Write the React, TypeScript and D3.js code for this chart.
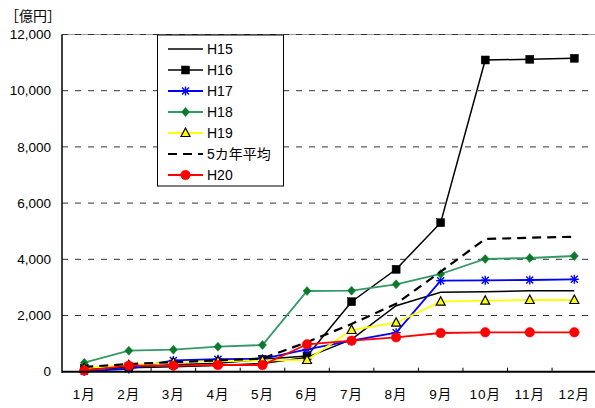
import React from "react";
import * as d3 from "d3";

const months = ["1月", "2月", "3月", "4月", "5月", "6月", "7月", "8月", "9月", "10月", "11月", "12月"];
const yTicks = [0, 2000, 4000, 6000, 8000, 10000, 12000];

const h15 = [100, 140, 180, 220, 290, 510, 1150, 2350, 2826, 2847, 2883, 2883];
const h16 = [120, 170, 250, 300, 440, 560, 2491, 3644, 5302, 11093, 11117, 11153];
const h17 = [20, 100, 400, 445, 455, 797, 1103, 1388, 3238, 3253, 3263, 3288];
const h18 = [320, 747, 783, 890, 950, 2872, 2883, 3110, 3477, 4011, 4046, 4117];
const h19 = [130, 230, 330, 370, 400, 416, 1484, 1744, 2491, 2527, 2552, 2552];
const avg5 = [170, 270, 340, 400, 470, 1050, 1700, 2420, 3560, 4722, 4769, 4804];
const h20 = [40, 214, 214, 238, 238, 975, 1103, 1224, 1377, 1402, 1402, 1402];

type Marker = "none" | "square" | "star" | "diamond" | "triangle" | "circle";
interface Series {
  name: string;
  values: number[];
  color: string;
  width: number;
  dash?: string;
  marker: Marker;
  mFill: string;
  mStroke: string;
}

const series: Series[] = [
  { name: "H15", values: h15, color: "#000000", width: 1.5, marker: "none", mFill: "none", mStroke: "none" },
  { name: "H16", values: h16, color: "#000000", width: 1.5, marker: "square", mFill: "#000000", mStroke: "#000000" },
  { name: "H17", values: h17, color: "#0000ff", width: 1.8, marker: "star", mFill: "none", mStroke: "#0000ff" },
  { name: "H18", values: h18, color: "#339966", width: 1.8, marker: "diamond", mFill: "#0a7a2a", mStroke: "#0a7a2a" },
  { name: "H19", values: h19, color: "#ffff00", width: 1.8, marker: "triangle", mFill: "#ffff00", mStroke: "#000000" },
  { name: "5カ年平均", values: avg5, color: "#000000", width: 2.2, dash: "9,6", marker: "none", mFill: "none", mStroke: "none" },
  { name: "H20", values: h20, color: "#ff0000", width: 1.8, marker: "circle", mFill: "#ff0000", mStroke: "#ff0000" },
];

const FONT = "'Liberation Sans', 'Noto Sans CJK JP', sans-serif";

function MarkerShape({ type, x, y, fill, stroke }: { type: Marker; x: number; y: number; fill: string; stroke: string }) {
  switch (type) {
    case "square":
      return <rect x={x - 4} y={y - 4} width={8} height={8} fill={fill} stroke={stroke} strokeWidth={0.5} />;
    case "star":
      return (
        <g stroke={stroke} strokeWidth={1.4}>
          <line x1={x - 4.5} y1={y} x2={x + 4.5} y2={y} />
          <line x1={x - 3.5} y1={y - 3.5} x2={x + 3.5} y2={y + 3.5} />
          <line x1={x - 3.5} y1={y + 3.5} x2={x + 3.5} y2={y - 3.5} />
          <line x1={x} y1={y - 4.5} x2={x} y2={y + 4.5} />
        </g>
      );
    case "diamond":
      return <path d={`M${x},${y - 4.5}L${x + 4},${y}L${x},${y + 4.5}L${x - 4},${y}Z`} fill={fill} stroke={stroke} strokeWidth={0.5} />;
    case "triangle":
      return <path d={`M${x},${y - 5}L${x + 4.5},${y + 3.5}L${x - 4.5},${y + 3.5}Z`} fill={fill} stroke={stroke} strokeWidth={1.2} />;
    case "circle":
      return <circle cx={x} cy={y} r={4.8} fill={fill} stroke={stroke} strokeWidth={0.5} />;
    default:
      return null;
  }
}

export default function App() {
  const W = 595;
  const H = 408;
  const left = 62;
  const bandW = 44.55;
  const right = left + bandW * months.length;
  const top = 34.5;
  const bottom = 371.7;

  const x = d3.scaleBand<string>().domain(months).range([left, right]).padding(0);
  const y = d3.scaleLinear().domain([0, 12000]).range([bottom, top]);
  const cx = (m: string) => (x(m) as number) + x.bandwidth() / 2;

  const line = d3
    .line<number>()
    .x((_, i) => cx(months[i]))
    .y((v) => y(v));

  const fmt = d3.format(",");

  const legendX = 157.5;
  const legendY = 35;
  const legendW = 126;
  const legendH = 151;

  return (
    <svg width={W} height={H} style={{ position: "absolute", left: 0, top: 0, background: "#fff" }}>
      <rect x={0} y={0} width={W} height={H} fill="#fff" />
      {/* gridlines */}
      {yTicks
        .filter((t) => t > 0)
        .map((t) => (
          <g key={t}>
            {t === 12000 && <line x1={left} x2={W} y1={y(t)} y2={y(t)} stroke="#9a9a9a" strokeWidth={1} />}
            <line x1={left} x2={W} y1={y(t)} y2={y(t)} stroke="#333" strokeWidth={1} strokeDasharray="6,7" />
          </g>
        ))}
      {/* y tick labels */}
      {yTicks.map((t) => (
        <text key={t} x={51} y={y(t)} dy="0.35em" textAnchor="end" fontSize={13.5} fontFamily={FONT} fill="#000">
          {fmt(t)}
        </text>
      ))}
      <text x={5} y={21} fontSize={14} fontFamily={FONT} fill="#000">
        ［億円］
      </text>
      {/* x tick marks */}
      {months.map((m, i) =>
        i === 0 ? null : (
          <line key={m} x1={x(m) as number} x2={x(m) as number} y1={bottom} y2={bottom - 4} stroke="#000" strokeWidth={1} />
        )
      )}
      {/* x labels */}
      {months.map((m) => (
        <text key={m} x={cx(m)} y={394} dy="0.35em" textAnchor="middle" fontSize={13.5} fontFamily={FONT} fill="#000" letterSpacing={1}>
          {m}
        </text>
      ))}
      {/* series */}
      {series.map((s) => (
        <g key={s.name}>
          <path d={line(s.values) || ""} fill="none" stroke={s.color} strokeWidth={s.width} strokeDasharray={s.dash} />
          {s.marker !== "none" &&
            s.values.map((v, i) => (
              <MarkerShape key={i} type={s.marker} x={cx(months[i])} y={y(v)} fill={s.mFill} stroke={s.mStroke} />
            ))}
        </g>
      ))}
      {/* axes */}
      <line x1={left} x2={left} y1={top} y2={bottom + 1} stroke="#000" strokeWidth={1.5} />
      <line x1={left} x2={W} y1={bottom} y2={bottom} stroke="#000" strokeWidth={2} />
      {/* legend */}
      <rect x={legendX} y={legendY} width={legendW} height={legendH} fill="#fff" stroke="#000" strokeWidth={1} />
      {series.map((s, i) => {
        const ly = 49 + i * 21;
        return (
          <g key={s.name}>
            <line x1={168} x2={203} y1={ly} y2={ly} stroke={s.color} strokeWidth={s.width} strokeDasharray={s.dash} />
            {s.marker !== "none" && <MarkerShape type={s.marker} x={185.5} y={ly} fill={s.mFill} stroke={s.mStroke} />}
            <text x={207} y={ly} dy="0.36em" fontSize={14} fontFamily={FONT} fill="#000">
              {s.name}
            </text>
          </g>
        );
      })}
    </svg>
  );
}
